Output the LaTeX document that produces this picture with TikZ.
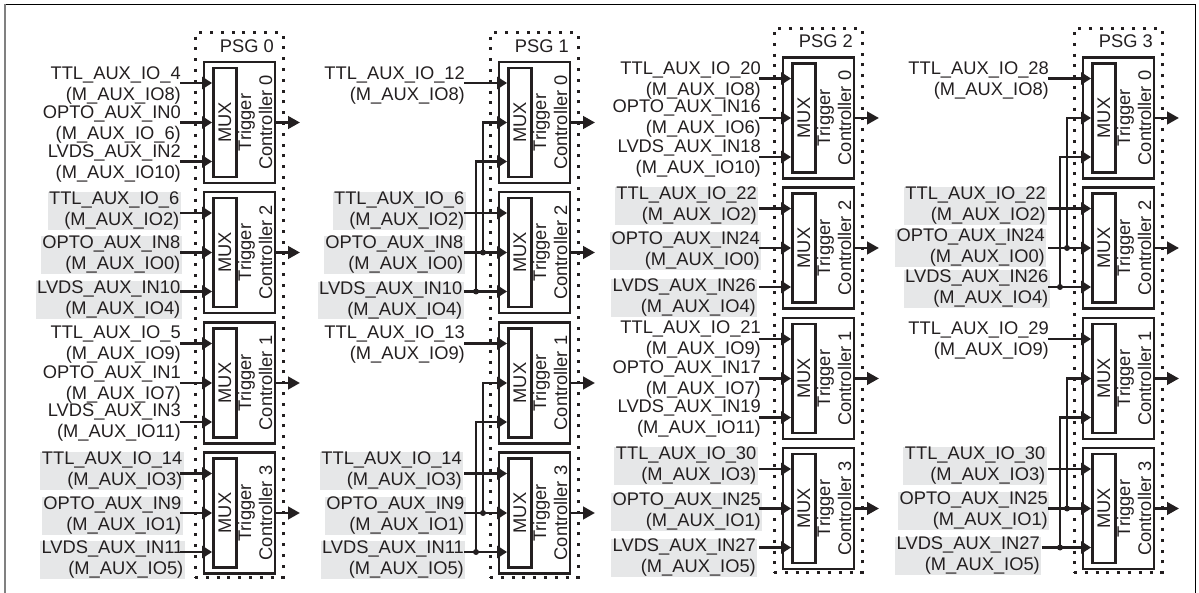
\documentclass[tikz,border=0pt]{standalone}
\usepackage{fontspec}
\setmainfont{Liberation Sans}
\usepackage{xcolor}
\usetikzlibrary{arrows.meta}
\definecolor{inkdark}{HTML}{231F20}
\definecolor{lablgray}{HTML}{E6E7E8}
\tikzset{
  lab/.style={anchor=east,align=right,inner xsep=0pt,inner ysep=0pt,yshift=-1pt,text=inkdark,
    font=\fontsize{18.3}{21}\selectfont},
  graylab/.style={lab,fill=lablgray,inner xsep=1.5pt},
  psgbox/.style={draw=inkdark,line width=3pt,dash pattern=on 3pt off 7.8pt,minimum width=88pt,minimum height=544pt},
  ctrlbox/.style={draw=inkdark,line width=2.8pt,minimum width=71pt,minimum height=121pt,inner sep=0pt},
  muxbox/.style={draw=inkdark,line width=2.8pt,rotate=90,minimum width=109pt,minimum height=23pt,inner sep=0pt,
    text=inkdark,font=\fontsize{18.3}{21}\selectfont},
  ctrltext/.style={rotate=90,align=center,inner sep=0pt,text=inkdark,font=\fontsize{18.3}{21}\selectfont},
  sig/.style={draw=inkdark,line width=2.8pt,-{Triangle[length=10pt,width=12pt]}},
  sigout/.style={draw=inkdark,line width=2.8pt,-{Triangle[length=12pt,width=12.5pt]}},
  busdot/.style={fill=inkdark}
}
\begin{document}
\begin{tikzpicture}[x=1pt,y=-1pt]
  \useasboundingbox (0,0) rectangle (1199,593);
  \draw[black,line width=1pt] (5,593)--(5,4.5)--(1195,4.5)--(1195,593);
  \draw[gray,line width=1.6pt] (5,593)--(5,4.5);
  % labels on the left of each PSG
  \node[lab] (lab00a) at (181,84.5) {TTL\_AUX\_IO\_4\\(M\_AUX\_IO8)};
  \node[lab] (lab00b) at (181,124) {OPTO\_AUX\_IN0\\(M\_AUX\_IO\_6)};
  \node[lab] (lab00c) at (181,162.5) {LVDS\_AUX\_IN2\\(M\_AUX\_IO10)};
  \node[graylab] (lab02a) at (181,210) {TTL\_AUX\_IO\_6\\(M\_AUX\_IO2)};
  \node[graylab] (lab02b) at (182,254) {OPTO\_AUX\_IN8\\(M\_AUX\_IO0)};
  \node[graylab] (lab02c) at (182,299) {LVDS\_AUX\_IN10\\(M\_AUX\_IO4)};
  \node[lab] (lab01a) at (181,344) {TTL\_AUX\_IO\_5\\(M\_AUX\_IO9)};
  \node[lab] (lab01b) at (181,383.5) {OPTO\_AUX\_IN1\\(M\_AUX\_IO7)};
  \node[lab] (lab01c) at (181,422) {LVDS\_AUX\_IN3\\(M\_AUX\_IO11)};
  \node[graylab] (lab03a) at (184,470) {TTL\_AUX\_IO\_14\\(M\_AUX\_IO3)};
  \node[graylab] (lab03b) at (183,515) {OPTO\_AUX\_IN9\\(M\_AUX\_IO1)};
  \node[graylab] (lab03c) at (185,559) {LVDS\_AUX\_IN11\\(M\_AUX\_IO5)};

  \node[lab] (lab10a) at (465,84.5) {TTL\_AUX\_IO\_12\\(M\_AUX\_IO8)};
  \node[graylab] (lab12a) at (466,210) {TTL\_AUX\_IO\_6\\(M\_AUX\_IO2)};
  \node[graylab] (lab12b) at (465,254) {OPTO\_AUX\_IN8\\(M\_AUX\_IO0)};
  \node[graylab] (lab12c) at (464,299.5) {LVDS\_AUX\_IN10\\(M\_AUX\_IO4)};
  \node[lab] (lab11a) at (465,344) {TTL\_AUX\_IO\_13\\(M\_AUX\_IO9)};
  \node[graylab] (lab13a) at (463.5,470) {TTL\_AUX\_IO\_14\\(M\_AUX\_IO3)};
  \node[graylab] (lab13b) at (466,515) {OPTO\_AUX\_IN9\\(M\_AUX\_IO1)};
  \node[graylab] (lab13c) at (465.5,559) {LVDS\_AUX\_IN11\\(M\_AUX\_IO5)};

  \node[lab] (lab20a) at (761,80) {TTL\_AUX\_IO\_20\\(M\_AUX\_IO8)};
  \node[lab] (lab20b) at (761,118) {OPTO\_AUX\_IN16\\(M\_AUX\_IO6)};
  \node[lab] (lab20c) at (761,158) {LVDS\_AUX\_IN18\\(M\_AUX\_IO10)};
  \node[graylab] (lab22a) at (758.5,205) {TTL\_AUX\_IO\_22\\(M\_AUX\_IO2)};
  \node[graylab] (lab22b) at (761.5,250) {OPTO\_AUX\_IN24\\(M\_AUX\_IO0)};
  \node[graylab] (lab22c) at (757.5,297) {LVDS\_AUX\_IN26\\(M\_AUX\_IO4)};
  \node[lab] (lab21a) at (761,339) {TTL\_AUX\_IO\_21\\(M\_AUX\_IO9)};
  \node[lab] (lab21b) at (761,379) {OPTO\_AUX\_IN17\\(M\_AUX\_IO7)};
  \node[lab] (lab21c) at (761,418) {LVDS\_AUX\_IN19\\(M\_AUX\_IO11)};
  \node[graylab] (lab23a) at (758,465) {TTL\_AUX\_IO\_30\\(M\_AUX\_IO3)};
  \node[graylab] (lab23b) at (762.5,511) {OPTO\_AUX\_IN25\\(M\_AUX\_IO1)};
  \node[graylab] (lab23c) at (757.5,557) {LVDS\_AUX\_IN27\\(M\_AUX\_IO5)};

  \node[lab] (lab30a) at (1049,80) {TTL\_AUX\_IO\_28\\(M\_AUX\_IO8)};
  \node[graylab] (lab32a) at (1047.5,205) {TTL\_AUX\_IO\_22\\(M\_AUX\_IO2)};
  \node[graylab] (lab32b) at (1046.5,247) {OPTO\_AUX\_IN24\\(M\_AUX\_IO0)};
  \node[graylab] (lab32c) at (1050,288) {LVDS\_AUX\_IN26\\(M\_AUX\_IO4)};
  \node[lab] (lab31a) at (1049,340) {TTL\_AUX\_IO\_29\\(M\_AUX\_IO9)};
  \node[graylab] (lab33a) at (1047,465) {TTL\_AUX\_IO\_30\\(M\_AUX\_IO3)};
  \node[graylab] (lab33b) at (1049.5,510) {OPTO\_AUX\_IN25\\(M\_AUX\_IO1)};
  \node[graylab] (lab33c) at (1041.5,555) {LVDS\_AUX\_IN27\\(M\_AUX\_IO5)};
  % boxes
  \foreach \p/\xl/\yo/\xs in {0/204/0/180,1/499/0/464,2/783/-4.5/759,3/1083/-4.5/1048}{
    \node[psgbox] (psg\p) at (\xl+35,\yo+305) {};
    \node[lab] (psgname\p) at (\xl+70,\yo+45) {PSG \p};
    \foreach \c/\yc in {0/122.5,2/252.5,1/383,3/513}{
      \node[ctrlbox] (ctrl\p\c) at (\xl+35.5,\yo+\yc) {};
      \node[muxbox] (mux\p\c) at (\xl+21,\yo+\yc) {MUX};
      \node[ctrltext] (trig\p\c) at (\xl+51,\yo+\yc) {Trigger\\Controller \c};
      \coordinate (out\p\c) at (\xl+96,\yo+\yc);
      \coordinate (in\p\c a) at (\xs,\yo+\yc-39.5);
      \coordinate (in\p\c b) at (\xs,\yo+\yc);
      \coordinate (in\p\c c) at (\xs,\yo+\yc+39);
      \draw[sigout] (ctrl\p\c.east) -- (out\p\c);
      \draw[sig] (in\p\c a) -- (in\p\c a -| mux\p\c.north);
    }
  }
  % direct inputs
  \foreach \p in {0,1,2,3} \foreach \c in {2,3} \foreach \i in {b,c}
    \draw[sig] (in\p\c\i) -- (in\p\c\i -| mux\p\c.north);
  \foreach \p in {0,2} \foreach \c in {0,1} \foreach \i in {b,c}
    \draw[sig] (in\p\c\i) -- (in\p\c\i -| mux\p\c.north);
  \draw[draw=inkdark,line width=2.8pt] (lab33c.east |- in33c) -- (in33c);
  % shared buses in PSG 1 and PSG 3
  \coordinate (busb1) at (483,0);
  \coordinate (busc1) at (476,0);
  \coordinate (busb3) at (1067,0);
  \coordinate (busc3) at (1060,0);
  \foreach \p in {1,3} \foreach \c/\s in {0/2,1/3}{
    \draw[sig] (in\p\s b -| busb\p) |- (in\p\c b -| mux\p\c.north);
    \draw[sig] (in\p\s c -| busc\p) |- (in\p\c c -| mux\p\c.north);
    \fill[busdot] (in\p\s b -| busb\p) circle (3pt);
    \fill[busdot] (in\p\s c -| busc\p) circle (3pt);
  }
\end{tikzpicture}
\end{document}
